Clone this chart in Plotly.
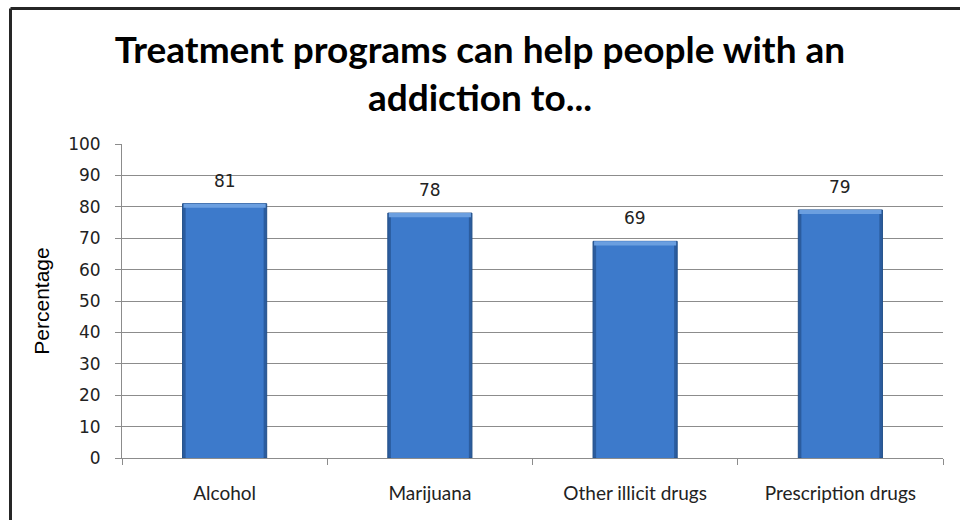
import plotly.graph_objects as go

# Survey results: share who agree treatment programs help with each addiction
categories = ["Alcohol", "Marijuana", "Other illicit drugs", "Prescription drugs"]
percentages = [81, 78, 69, 79]
y_ticks = [0, 10, 20, 30, 40, 50, 60, 70, 80, 90, 100]

title_text = "Treatment programs can help people with an<br>addiction to..."

BEVEL = 1.3  # height (in %) of the light strip at the top of each bar

fig = go.Figure()

# Darker outer bar gives the bevelled side edges
fig.add_trace(go.Bar(
    x=categories, y=percentages, width=0.41,
    marker=dict(color="#2b5c9e", line=dict(color="#23508a", width=1)),
    hoverinfo="skip", showlegend=False,
))
# Main face of the bar
fig.add_trace(go.Bar(
    x=categories, y=percentages, width=0.38,
    marker=dict(color="#3d7acb", line=dict(width=0)),
    hoverinfo="skip", showlegend=False,
))
# Light bevel strip along the top
fig.add_trace(go.Bar(
    x=categories, y=[BEVEL] * len(percentages),
    base=[v - BEVEL for v in percentages], width=0.40,
    marker=dict(color="#6b9fe0", line=dict(width=0)),
    hoverinfo="skip", showlegend=False,
))

# Value labels above each bar
for cat, val in zip(categories, percentages):
    fig.add_annotation(
        x=cat, y=val, text=str(val), showarrow=False,
        yanchor="bottom", yshift=11,
        font=dict(family="DejaVu Sans", size=17, color="#222222"),
    )

fig.update_layout(
    width=960, height=520,
    margin=dict(l=122, r=17, t=144, b=62),
    paper_bgcolor="white", plot_bgcolor="white",
    barmode="overlay",
    title=dict(
        text=title_text, x=0.5, xanchor="center",
        y=1 - 63 / 520, yanchor="middle", yref="container",
        font=dict(family="Lato", size=37, color="black", weight="bold"),
    ),
    xaxis=dict(
        type="category", showgrid=False,
        showline=True, linecolor="#8c8c8c", linewidth=1,
        ticks="outside", tickson="boundaries", ticklen=6, tickcolor="#8c8c8c",
        tickfont=dict(family="Lato", size=19, color="#222222"),
        ticklabelstandoff=18,
    ),
    yaxis=dict(
        range=[0, 100], tickvals=y_ticks,
        showgrid=True, gridcolor="#8c8c8c", gridwidth=1,
        showline=True, linecolor="#8c8c8c", linewidth=1,
        ticks="outside", ticklen=6, tickcolor="#8c8c8c",
        tickfont=dict(family="DejaVu Sans", size=17, color="#222222"),
        ticklabelstandoff=11,
        zeroline=False,
        title=dict(text="Percentage", standoff=12,
                   font=dict(family="Liberation Sans", size=21, color="black")),
    ),
    shapes=[
        # Dark frame along the top and left edges of the slide
        dict(type="line", xref="paper", yref="paper",
             x0=(10.5 - 122) / 821, x1=(970 - 122) / 821,
             y0=(458 - 8.5) / 314, y1=(458 - 8.5) / 314,
             line=dict(color="#262626", width=3)),
        dict(type="line", xref="paper", yref="paper",
             x0=(10.5 - 122) / 821, x1=(10.5 - 122) / 821,
             y0=(458 - 8.5) / 314, y1=(458 - 530) / 314,
             line=dict(color="#262626", width=3)),
    ],
)

fig.write_html("out.html")
